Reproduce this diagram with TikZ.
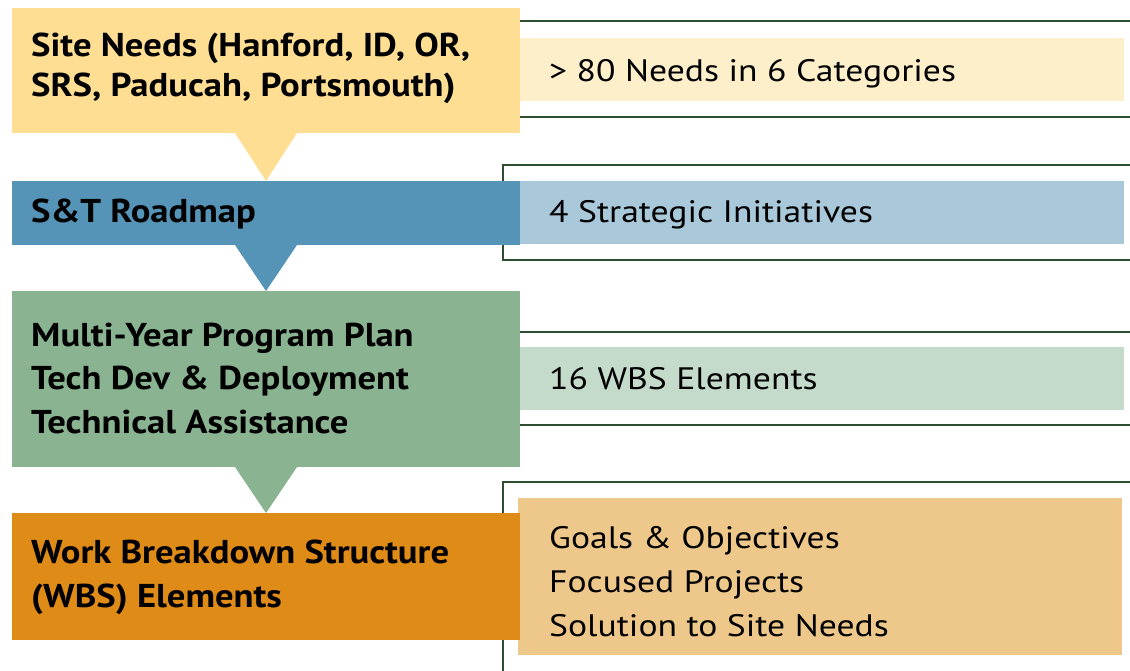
\documentclass[tikz,border=0pt]{standalone}
\usepackage{fontspec}
\setmainfont{PT Sans}
\newfontfamily\leftfont[FakeStretch=1.11]{PT Sans}
\newfontfamily\rightfont[FakeStretch=1.15]{PT Sans}
\definecolor{yelD}{HTML}{FDDE93}
\definecolor{yelL}{HTML}{FEEFCB}
\definecolor{bluD}{HTML}{5594B6}
\definecolor{bluL}{HTML}{A9C9DB}
\definecolor{grnD}{HTML}{8AB391}
\definecolor{grnL}{HTML}{C4DBCB}
\definecolor{orgD}{HTML}{DF8B17}
\definecolor{orgL}{HTML}{EEC78B}
\definecolor{lineG}{HTML}{2D4F2F}
\begin{document}
\begin{tikzpicture}[x=1pt,y=-1pt,
  lbox/.style={inner sep=0pt, outer sep=0pt, minimum width=508pt, anchor=north west},
  rbox/.style={inner sep=0pt, outer sep=0pt, minimum width=604pt, anchor=north west},
  bracket/.style={draw=lineG, line width=2pt},
  ltext/.style={inner sep=0pt, anchor=base west, align=left, font=\leftfont\fontsize{33}{44}\selectfont\bfseries},
  rtext/.style={inner sep=0pt, anchor=base west, align=left, font=\rightfont\fontsize{31}{44}\selectfont}]
\useasboundingbox (0,0) rectangle (1130,671);
% right-hand brackets
\draw[bracket] (1132,21) -| (503,117) -- (1132,117);
\draw[bracket] (1132,165) -| (503,260) -- (1132,260);
\draw[bracket] (1132,332) -| (503,425) -- (1132,425);
\draw[bracket] (1132,482) -| (503,675);
% right-hand fills
\node[rbox, fill=yelL, minimum height=63pt] (r1) at (520,38) {};
\node[rbox, fill=bluL, minimum height=63pt] (r2) at (520,181) {};
\node[rbox, fill=grnL, minimum height=63pt] (r3) at (520,347) {};
\node[rbox, fill=orgL, minimum height=157pt] (r4) at (518,498) {};
% left boxes
\node[lbox, fill=yelD, minimum height=125pt] (b1) at (12,8) {};
\node[lbox, fill=bluD, minimum height=64pt] (b2) at (12,181) {};
\node[lbox, fill=grnD, minimum height=176pt] (b3) at (12,291) {};
\node[lbox, fill=orgD, minimum height=127pt] (b4) at (12,513) {};
% pointers
\fill[yelD] ([xshift=-31pt]b1.south) -- ([xshift=31pt]b1.south) -- (b2.north) -- cycle;
\fill[bluD] ([xshift=-31pt]b2.south) -- ([xshift=31pt]b2.south) -- (b3.north) -- cycle;
\fill[grnD] ([xshift=-31pt]b3.south) -- ([xshift=31pt]b3.south) -- (b4.north) -- cycle;
% texts (multi-line nodes are placed by their last baseline)
\node[ltext, font=\leftfont\fontsize{33}{40}\selectfont\bfseries] (t1) at (31,97) {Site Needs (Hanford, ID, OR,\\SRS, Paducah, Portsmouth)};
\node[ltext] (t2) at (31,223) {S\&T Roadmap};
\node[ltext, font=\leftfont\fontsize{33}{43.3}\selectfont\bfseries] (t3) at (31,433) {Multi-Year Program Plan\\Tech Dev \& Deployment\\Technical Assistance};
\node[ltext] (t4) at (31,607) {Work Breakdown Structure\\(WBS) Elements};
\node[rtext] (s1) at (549,82) {> 80 Needs in 6 Categories};
\node[rtext] (s2) at (549,223) {4 Strategic Initiatives};
\node[rtext] (s3) at (549,389) {16 WBS Elements};
\node[rtext] (s4) at (549,636) {Goals \& Objectives\\Focused Projects\\Solution to Site Needs};
\end{tikzpicture}
\end{document}
